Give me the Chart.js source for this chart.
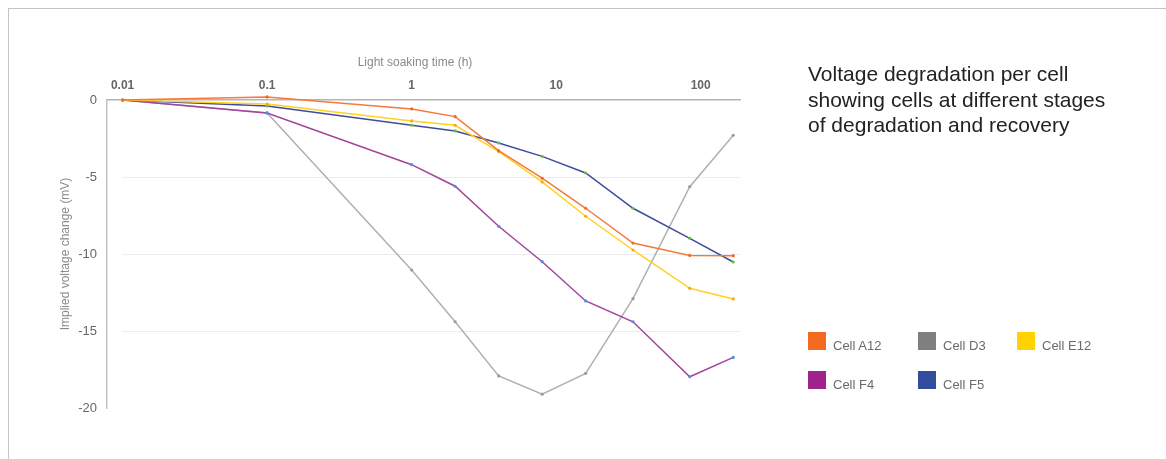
<!DOCTYPE html>
<html>
<head>
<meta charset="utf-8">
<script src="https://cdn.jsdelivr.net/npm/chart.js@4"></script>
<style>
  html, body { margin: 0; padding: 0; background: #fff; }
  body { width: 1166px; height: 459px; position: relative; overflow: hidden; font-family: "Liberation Sans", Arial, sans-serif; }
  #frame { position: absolute; left: 8px; top: 8px; right: 0; bottom: 0; border-top: 1px solid #c4c4c4; border-left: 1px solid #c4c4c4; }
  #wrap { position: absolute; left: 0; top: 0; width: 1166px; height: 459px; }
  #title { position: absolute; left: 808px; top: 61px; font-size: 21px; line-height: 25.5px; color: #222; }
  #legend { position: absolute; left: 808px; top: 332px; display: grid; grid-template-columns: 110px 99px 110px; grid-auto-rows: 39px; }
  .item { font-size: 13px; color: #6b6b6b; line-height: 18px; white-space: nowrap; }
  .box { display: inline-block; width: 18px; height: 18px; margin-right: 7px; vertical-align: baseline; }
</style>
</head>
<body>
<div id="frame"></div>
<div id="wrap"><canvas id="c" width="1166" height="459"></canvas></div>
<div id="title">Voltage degradation per cell<br>showing cells at different stages<br>of degradation and recovery</div>
<div id="legend"></div>
<script>
// ---- data ----
const hours = [0.01, 0.1, 1, 2, 4, 8, 16, 34, 84, 168];
const seriesNames = ["Cell A12", "Cell D3", "Cell E12", "Cell F4", "Cell F5"];
const cellA12 = [0, 0.2, -0.58, -1.08, -3.29, -5.08, -7.03, -9.29, -10.09, -10.11];
const cellD3  = [0, -0.84, -11.04, -14.4, -17.92, -19.1, -17.75, -12.9, -5.63, -2.29];
const cellE12 = [0, -0.26, -1.36, -1.64, -3.35, -5.32, -7.55, -9.74, -12.23, -12.92];
const cellF4  = [0, -0.84, -4.2, -5.6, -8.2, -10.5, -13.05, -14.4, -17.97, -16.71];
const cellF5  = [0, -0.39, -1.64, -2.01, -2.79, -3.66, -4.74, -7.03, -8.98, -10.52];
const xTickValues = [0.01, 0.1, 1, 10, 100];
const xTickLabels = ["0.01", "0.1", "1", "10", "100"];
const yTickValues = [0, -5, -10, -15, -20];
const yTickLabels = ["0", "-5", "-10", "-15", "-20"];
const xTitle = "Light soaking time (h)";
const yTitle = "Implied voltage change (mV)";

// ---- styles ----
const legendColors = ["#F26B21", "#7F7F82", "#FFD200", "#A0228C", "#324C9E"];
const lineColors   = ["#F47A3C", "#B0B0B0", "#FFD21F", "#A3449A", "#3E4C9E"];
const pointColors  = ["#F26B21", "#9A9A9A", "#F5A623", "#4A90E2", "#6CBF3A"];
const seriesValues = [cellA12, cellD3, cellE12, cellF4, cellF5];
// first entry is drawn on top
const drawOrder = [0, 2, 4, 3, 1];

const datasets = drawOrder.map(i => ({
  label: seriesNames[i],
  data: hours.map((h, k) => ({ x: h, y: seriesValues[i][k] })),
  borderColor: lineColors[i],
  backgroundColor: lineColors[i],
  borderWidth: 1.5,
  pointRadius: 1.6,
  pointBorderWidth: 0,
  pointBackgroundColor: pointColors[i],
  tension: 0,
  fill: false,
  clip: 8
}));

// legend (HTML)
const lg = document.getElementById('legend');
seriesNames.forEach((n, i) => {
  const d = document.createElement('div');
  d.className = 'item';
  d.innerHTML = '<span class="box" style="background:' + legendColors[i] + '"></span>' + n;
  lg.appendChild(d);
});

const gridPlugin = {
  id: 'customGrid',
  beforeDatasetsDraw(chart) {
    const { ctx, chartArea, scales } = chart;
    const x0 = scales.x.getPixelForValue(hours[0]);
    ctx.save();
    ctx.strokeStyle = '#ececec';
    ctx.lineWidth = 1;
    yTickValues.slice(1, -1).forEach(v => {
      const y = Math.round(scales.y.getPixelForValue(v)) + 0.5;
      ctx.beginPath();
      ctx.moveTo(x0, y);
      ctx.lineTo(chartArea.right, y);
      ctx.stroke();
    });
    ctx.restore();
  },
  afterDraw(chart) {
    const { ctx } = chart;
    ctx.save();
    ctx.font = '12px "Liberation Sans", Arial, sans-serif';
    ctx.fillStyle = '#8a8a8a';
    ctx.textAlign = 'center';
    ctx.textBaseline = 'middle';
    ctx.fillText(xTitle, 415, 63);
    ctx.restore();
  }
};

new Chart(document.getElementById('c'), {
  type: 'line',
  data: { datasets },
  plugins: [gridPlugin],
  options: {
    responsive: false,
    animation: false,
    events: [],
    layout: { padding: { left: 0, top: 0, right: 426, bottom: 51 } },
    plugins: { legend: { display: false }, tooltip: { enabled: false }, title: { display: false } },
    scales: {
      x: {
        type: 'logarithmic',
        position: 'top',
        min: 0.0078,
        max: 187,
        afterFit(s) { s.height = 100; },
        afterBuildTicks(s) { s.ticks = xTickValues.map(v => ({ value: v })); },
        grid: { display: false, drawTicks: false },
        border: { display: true, color: '#b4b4b4', width: 1.5 },
        ticks: {
          autoSkip: false,
          maxRotation: 0,
          padding: 7,
          color: '#666',
          font: { family: '"Liberation Sans", Arial, sans-serif', size: 12, weight: 'bold' },
          callback: (v, i) => xTickLabels[i]
        },
        title: { display: false }
      },
      y: {
        type: 'linear',
        min: -20,
        max: 0,
        afterFit(s) { s.width = 107; },
        afterBuildTicks(s) { s.ticks = yTickValues.map(v => ({ value: v })); },
        grid: { display: false, drawTicks: false },
        border: { display: true, color: '#c4c4c4', width: 1.5 },
        ticks: {
          padding: 10,
          color: '#666',
          font: { family: '"Liberation Sans", Arial, sans-serif', size: 13 },
          callback: (v, i) => yTickLabels[i]
        },
        title: {
          display: true,
          text: yTitle,
          color: '#8a8a8a',
          font: { family: '"Liberation Sans", Arial, sans-serif', size: 12 },
          padding: { top: 58, bottom: 0 }
        }
      }
    }
  }
});
</script>
</body>
</html>
